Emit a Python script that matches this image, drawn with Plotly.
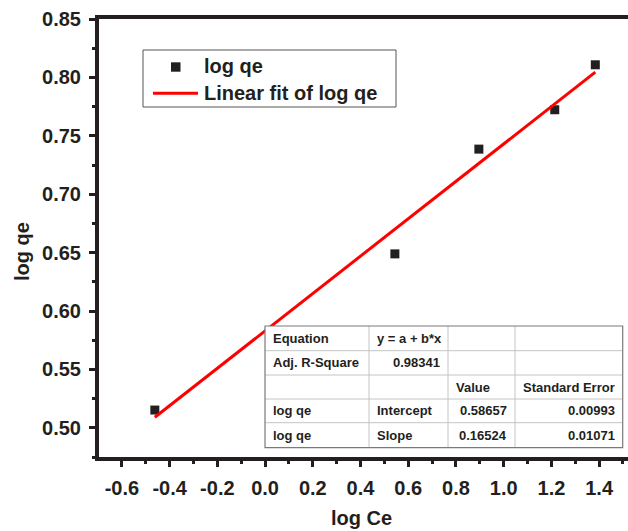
import plotly.graph_objects as go

# ---- data ----
log_ce = [-0.462, 0.544, 0.896, 1.214, 1.384]
log_qe = [0.5152, 0.6489, 0.7386, 0.7723, 0.8108]
fit_x = [-0.462, 1.384]
fit_y = [0.509, 0.8045]

x_tick_vals = [-0.6, -0.4, -0.2, 0.0, 0.2, 0.4, 0.6, 0.8, 1.0, 1.2, 1.4]
x_tick_text = ["-0.6", "-0.4", "-0.2", "0.0", "0.2", "0.4", "0.6", "0.8", "1.0", "1.2", "1.4"]
y_tick_vals = [0.50, 0.55, 0.60, 0.65, 0.70, 0.75, 0.80, 0.85]
y_tick_text = ["0.50", "0.55", "0.60", "0.65", "0.70", "0.75", "0.80", "0.85"]

table_rows = [
    ["Equation", "y = a + b*x", "", ""],
    ["Adj. R-Square", "0.98341", "", ""],
    ["", "", "Value", "Standard Error"],
    ["log qe", "Intercept", "0.58657", "0.00993"],
    ["log qe", "Slope", "0.16524", "0.01071"],
]
table_align = [
    ["left", "left", "left", "left"],
    ["left", "right", "left", "left"],
    ["left", "left", "left", "left"],
    ["left", "left", "right", "right"],
    ["left", "left", "right", "right"],
]
legend_labels = ["log qe", "Linear fit of log qe"]

x_range = [-0.696, 1.521]
y_range = [0.475, 0.85]

# ---- layout geometry (pixels) ----
FW, FH = 628, 531
L, T, R, B = 99, 19, 0, 74
PW, PH = FW - L - R, FH - T - B

def px(x):
    return (x - L) / PW

def py(y):
    return (T + PH - y) / PH

FONT = "Liberation Sans, Arial, sans-serif"
DARK = "#231f20"

fig = go.Figure()
fig.add_trace(go.Scatter(x=log_ce, y=log_qe, mode="markers",
                         marker=dict(symbol="square", size=9, color=DARK, line=dict(width=0)),
                         showlegend=False, name=legend_labels[0]))
fig.add_trace(go.Scatter(x=fit_x, y=fit_y, mode="lines",
                         line=dict(color="#ff0000", width=3),
                         showlegend=False, name=legend_labels[1]))

shapes = []
annotations = []

# ---- legend (manual) ----
shapes.append(dict(type="rect", xref="paper", yref="paper",
                   x0=px(143), x1=px(396), y0=py(107), y1=py(50),
                   line=dict(color="#555555", width=1), fillcolor="white", layer="above"))
shapes.append(dict(type="rect", xref="paper", yref="paper",
                   x0=px(171), x1=px(180.5), y0=py(71.7), y1=py(62.3),
                   line=dict(width=0), fillcolor=DARK, layer="above"))
shapes.append(dict(type="line", xref="paper", yref="paper",
                   x0=px(153), x1=px(198), y0=py(93.3), y1=py(93.3),
                   line=dict(color="#ff0000", width=3), layer="above"))
for lbl, yc in zip(legend_labels, [66, 93]):
    annotations.append(dict(xref="paper", yref="paper", x=px(202), y=py(yc),
                            xanchor="left", yanchor="middle", showarrow=False, text=lbl,
                            font=dict(family=FONT, size=20, color=DARK, weight="bold")))

# ---- stats table (manual) ----
col_x = [265, 369, 448, 515, 622.7]
row_y = [326, 350.7, 375, 399, 422.7, 447.7]
shapes.append(dict(type="rect", xref="paper", yref="paper",
                   x0=px(col_x[0]), x1=px(col_x[-1]), y0=py(row_y[-1]), y1=py(row_y[0]),
                   line=dict(width=0), fillcolor="white", layer="above"))
for cx in col_x[1:-1]:
    shapes.append(dict(type="line", xref="paper", yref="paper",
                       x0=px(cx), x1=px(cx), y0=py(row_y[-1]), y1=py(row_y[0]),
                       line=dict(color="#c4c4c4", width=1), layer="above"))
for ry in row_y[1:-1]:
    shapes.append(dict(type="line", xref="paper", yref="paper",
                       x0=px(col_x[0]), x1=px(col_x[-1]), y0=py(ry), y1=py(ry),
                       line=dict(color="#c4c4c4", width=1), layer="above"))
shapes.append(dict(type="rect", xref="paper", yref="paper",
                   x0=px(col_x[0]), x1=px(col_x[-1]), y0=py(row_y[-1]), y1=py(row_y[0]),
                   line=dict(color="#7a7a7a", width=1.2), fillcolor="rgba(0,0,0,0)", layer="above"))
for r, row in enumerate(table_rows):
    yc = (row_y[r] + row_y[r + 1]) / 2
    for c, txt in enumerate(row):
        if not txt:
            continue
        al = table_align[r][c]
        if al == "left":
            xx = col_x[c] + 6
        else:
            xx = col_x[c + 1] - 6
        annotations.append(dict(xref="paper", yref="paper", x=px(xx), y=py(yc),
                                xanchor=al, yanchor="middle", showarrow=False, text=txt,
                                font=dict(family=FONT, size=13, color=DARK, weight="bold")))

# ---- axis titles ----
annotations.append(dict(xref="paper", yref="paper", x=px(361), y=py(518),
                        xanchor="center", yanchor="middle", showarrow=False, text="log Ce",
                        font=dict(family=FONT, size=20, color=DARK, weight="bold")))
annotations.append(dict(xref="paper", yref="paper", x=px(22), y=py(252),
                        xanchor="center", yanchor="middle", showarrow=False, text="log qe",
                        textangle=-90,
                        font=dict(family=FONT, size=20, color=DARK, weight="bold")))

tickfont = dict(family=FONT, size=20, color=DARK, weight="bold")
fig.update_layout(
    width=FW, height=FH,
    margin=dict(l=L, r=R, t=T, b=B, pad=0),
    paper_bgcolor="white", plot_bgcolor="white",
    showlegend=False,
    shapes=shapes, annotations=annotations,
    xaxis=dict(range=x_range, showgrid=False, zeroline=False,
               showline=True, linecolor=DARK, linewidth=4, mirror=True,
               ticks="outside", ticklen=6, tickwidth=3, tickcolor=DARK,
               tickmode="array", tickvals=x_tick_vals, ticktext=x_tick_text,
               tickfont=tickfont, ticklabelstandoff=4,
               minor=dict(ticks="outside", ticklen=3, tickwidth=3, tickcolor=DARK,
                          tick0=0, dtick=0.1, showgrid=False)),
    yaxis=dict(range=y_range, showgrid=False, zeroline=False,
               showline=True, linecolor=DARK, linewidth=4, mirror=False,
               ticks="outside", ticklen=6, tickwidth=3, tickcolor=DARK,
               tickmode="array", tickvals=y_tick_vals, ticktext=y_tick_text,
               tickfont=tickfont, ticklabelstandoff=4,
               minor=dict(ticks="outside", ticklen=3, tickwidth=3, tickcolor=DARK,
                          tick0=0.5, dtick=0.025, showgrid=False)),
)

fig.write_html("out.html", config={"displayModeBar": False},
               post_script="document.body.style.margin='0';document.body.style.overflow='hidden';")
